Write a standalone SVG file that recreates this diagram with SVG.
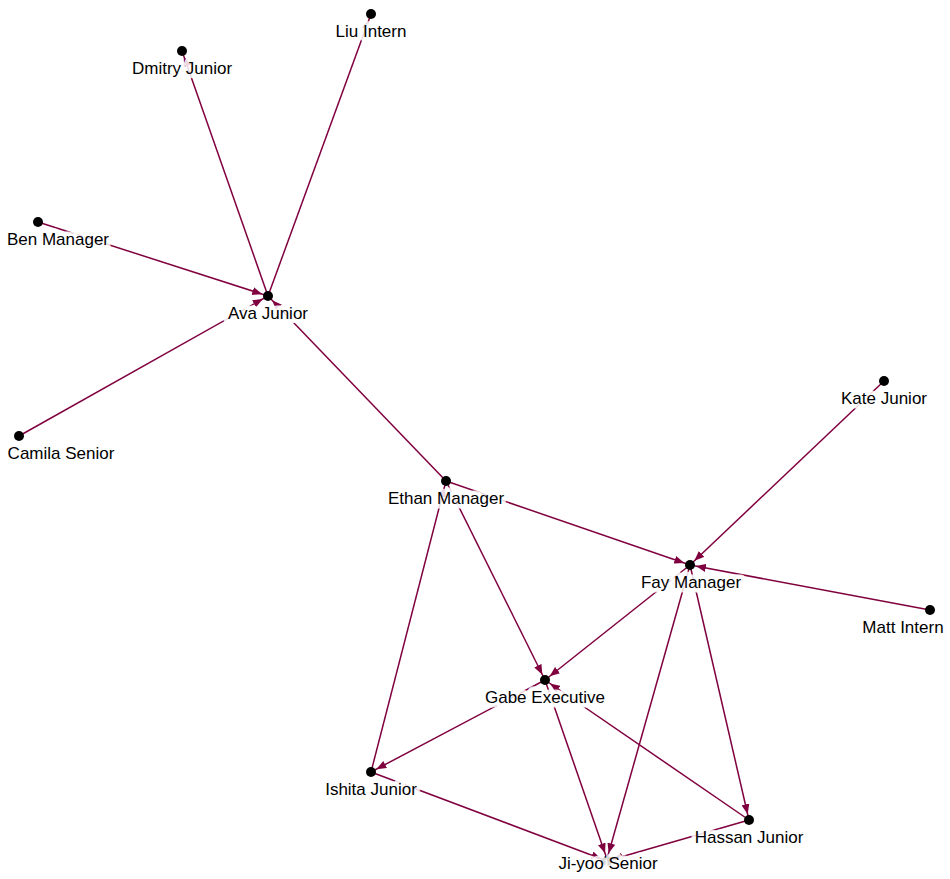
<svg xmlns="http://www.w3.org/2000/svg" width="950" height="879" viewBox="0 0 950 879">
<style>
.e{stroke:#80003f;stroke-width:1.5;fill:none;marker-end:url(#ah)}
.n circle{fill:#000}
.n text{font-family:"Liberation Sans",Arial,sans-serif;font-size:17px;fill:#000;text-anchor:middle;stroke:#fff;stroke-opacity:0.85;stroke-width:9;paint-order:stroke;stroke-linejoin:round}
</style>
<defs>
<marker id="ah" markerUnits="userSpaceOnUse" viewBox="0 0 10 8" markerWidth="10" markerHeight="8" refX="16" refY="4" orient="auto">
<path d="M0,0 L10,4 L0,8 z" fill="#80003f"/>
</marker>
</defs>
<rect width="950" height="879" fill="#fff"/>
<g id="edges">
<line class="e" x1="268" y1="296" x2="371" y2="14"/>
<line class="e" x1="268" y1="296" x2="182" y2="51"/>
<line class="e" x1="38" y1="222" x2="268" y2="296"/>
<line class="e" x1="19" y1="436" x2="268" y2="296"/>
<line class="e" x1="446" y1="481" x2="268" y2="296"/>
<line class="e" x1="446" y1="481" x2="690" y2="565"/>
<line class="e" x1="884" y1="381" x2="690" y2="565"/>
<line class="e" x1="930" y1="610" x2="690" y2="565"/>
<line class="e" x1="446" y1="481" x2="545" y2="680"/>
<line class="e" x1="690" y1="565" x2="545" y2="680"/>
<line class="e" x1="371" y1="772" x2="446" y2="481"/>
<line class="e" x1="545" y1="680" x2="371" y2="772"/>
<line class="e" x1="371" y1="772" x2="607" y2="861"/>
<line class="e" x1="545" y1="680" x2="607" y2="859"/>
<line class="e" x1="690" y1="565" x2="607" y2="859"/>
<line class="e" x1="690" y1="565" x2="749" y2="820"/>
<line class="e" x1="749" y1="820" x2="545" y2="680"/>
<line class="e" x1="749" y1="820" x2="607" y2="861"/>
</g>
<g id="nodes-dots">
<g class="n" id="liu"><circle cx="371" cy="14" r="5"/></g>
<g class="n" id="dmitry"><circle cx="182" cy="51" r="5"/></g>
<g class="n" id="ben"><circle cx="38" cy="222" r="5"/></g>
<g class="n" id="ava"><circle cx="268" cy="296" r="5"/></g>
<g class="n" id="camila"><circle cx="19" cy="436" r="5"/></g>
<g class="n" id="kate"><circle cx="884" cy="381" r="5"/></g>
<g class="n" id="ethan"><circle cx="446" cy="481" r="5"/></g>
<g class="n" id="fay"><circle cx="690" cy="565" r="5"/></g>
<g class="n" id="matt"><circle cx="930" cy="610" r="5"/></g>
<g class="n" id="gabe"><circle cx="545" cy="680" r="5"/></g>
<g class="n" id="ishita"><circle cx="371" cy="772" r="5"/></g>
<g class="n" id="hassan"><circle cx="749" cy="820" r="5"/></g>
<g class="n" id="jiyoo"><circle cx="607" cy="861" r="5"/></g>
</g>
<g id="labels" class="n">
<text x="371" y="37">Liu Intern</text>
<text x="182" y="74">Dmitry Junior</text>
<text x="58" y="245">Ben Manager</text>
<text x="268" y="319">Ava Junior</text>
<text x="61" y="459">Camila Senior</text>
<text x="884" y="404">Kate Junior</text>
<text x="446" y="504">Ethan Manager</text>
<text x="691" y="588">Fay Manager</text>
<text x="903" y="633">Matt Intern</text>
<text x="545" y="703">Gabe Executive</text>
<text x="371" y="795">Ishita Junior</text>
<text x="749" y="843">Hassan Junior</text>
<text x="608" y="869">Ji-yoo Senior</text>
</g>
</svg>
